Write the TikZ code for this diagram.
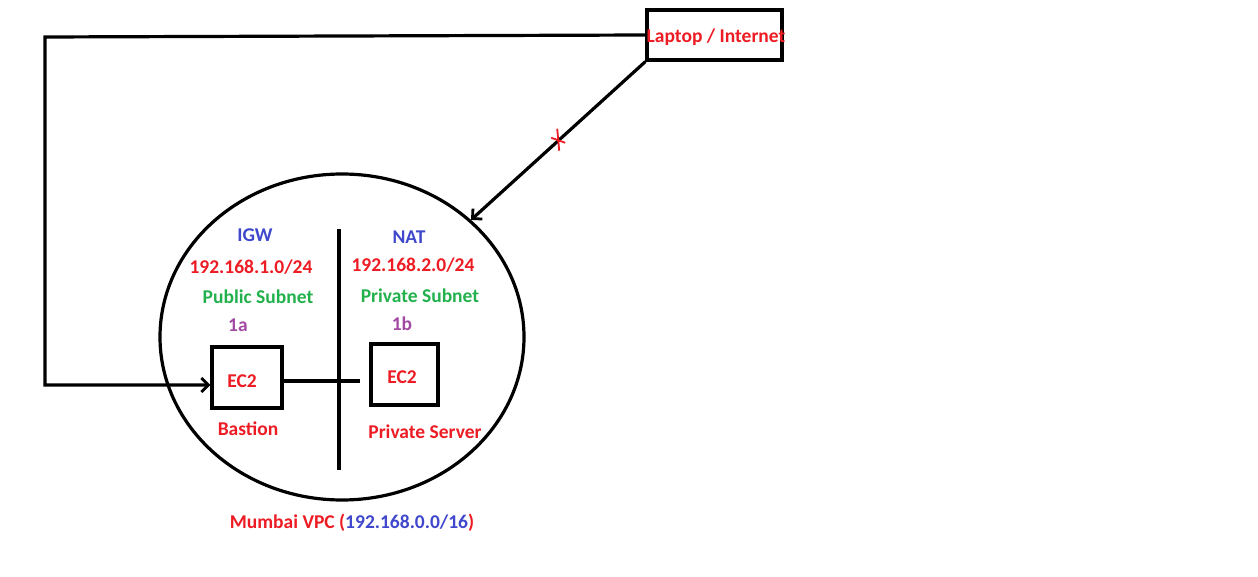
\documentclass[tikz,border=0pt]{standalone}
\usepackage{fontspec}
\setmainfont{Carlito}
\usetikzlibrary{arrows.meta,shapes.geometric}
\definecolor{pred}{HTML}{ED1C24}
\definecolor{pblue}{HTML}{3F48CC}
\definecolor{pgreen}{HTML}{22B14C}
\definecolor{ppurple}{HTML}{A349A4}
\tikzset{
  lbl/.style={font=\fontsize{19.5}{23}\selectfont\bfseries, inner sep=0pt},
  redt/.style={lbl, text=pred},
  bluet/.style={lbl, text=pblue},
  greent/.style={lbl, text=pgreen},
  purplet/.style={lbl, text=ppurple},
  box/.style={draw=black, line width=3.2pt, inner sep=0pt},
  conn/.style={draw=black, line width=3.2pt},
  tip/.style={-{Straight Barb[length=7pt,width=14pt,line width=2.8pt]}}
}
\begin{document}
\begin{tikzpicture}[x=1pt,y=-1pt]
\useasboundingbox[fill=white] (0,0) rectangle (1258,577);
% VPC ellipse and divider
\node[draw=black, line width=3.2pt, ellipse, minimum width=364pt, minimum height=326pt, inner sep=0pt] (vpc) at (342,337) {};
\coordinate (divtop) at (339,229);
\coordinate (divbot) at (339,470);
\draw[conn] (divtop) -- (divbot);
% laptop
\node[box, minimum width=135pt, minimum height=50pt] (laptop) at (714.5,35) {};
\node[redt] (laptoplbl) at (716,37) {Laptop / Internet};
% EC2 boxes
\node[box, minimum width=70pt, minimum height=61pt] (bastion) at (247,377.5) {};
\node[redt] (ec2a) at (242,381) {EC2};
\node[box, minimum width=67pt, minimum height=61pt] (priv) at (404.5,374.5) {};
\node[redt] (ec2b) at (402,377) {EC2};
% labels
\node[bluet] (igw) at (255,235) {IGW};
\node[redt] (cidr1) at (251,267) {192.168.1.0/24};
\node[greent] (pub) at (258,297) {Public Subnet};
\node[purplet] (az1) at (238,325) {1a};
\node[bluet] (nat) at (409,237) {NAT};
\node[redt] (cidr2) at (413,265) {192.168.2.0/24};
\node[greent] (privsub) at (420,296) {Private Subnet};
\node[purplet] (az2) at (402,324) {1b};
\node[redt] (bast) at (248,429) {Bastion};
\node[redt] (psrv) at (425,432) {Private Server};
\node[lbl] (vpcname) at (352,523) {\textcolor{pred}{Mumbai VPC (}\textcolor{pblue}{192.168.0.0/16}\textcolor{pred}{)}};
% connectors
\coordinate (corner) at (45,37);
\draw[conn, tip] (laptop.west) -- (corner) |- ([yshift=-7.5pt]bastion.west);
\draw[conn, tip] (laptop.south west) -- coordinate[pos=0.5] (cross) (vpc);
\draw[pred, line width=1.8pt] ([shift={(-1,-12)}]cross) -- ([shift={(1,10)}]cross);
\draw[pred, line width=1.8pt] ([shift={(-7,-3)}]cross) -- ([shift={(7,2)}]cross);
\draw[conn, shorten >=9pt] (bastion.east |- ec2a) -- (priv.west |- ec2a);
\end{tikzpicture}
\end{document}
